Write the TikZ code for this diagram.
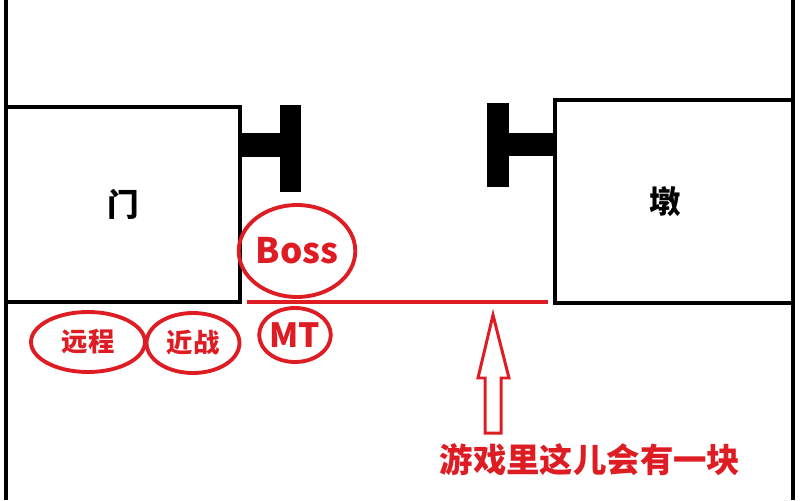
\documentclass[tikz,border=0pt]{standalone}
\usepackage{fontspec}
\setmainfont{Noto Sans CJK SC}
\usepackage{tikz}
\usetikzlibrary{shapes.geometric}
\usepackage{xcolor}
\definecolor{redmark}{RGB}{222,28,36}

\begin{document}
\begin{tikzpicture}[x=0.02cm, y=-0.02cm,
    wall/.style={line width=2.3pt, black},
    room/.style={draw, line width=2.3pt, rectangle, inner sep=0pt, font=\bfseries\fontsize{18}{18}\selectfont},
    unit/.style={draw=redmark, line width=2.2pt, ellipse, inner sep=0pt, text=redmark, font=\bfseries\fontsize{15}{15}\selectfont},
  ]
  \useasboundingbox (0,0) rectangle (800,500);

  % walls
  \draw[wall] (6,0) -- (6,500);
  \draw[wall] (793,0) -- (793,500);

  \node[room, minimum width=4.68cm, minimum height=3.9cm] (door) at (123,204.5) {门};
  \node[room, minimum width=4.76cm, minimum height=4.06cm] (pier) at (674,201.5) {\hspace*{-10pt}墩};

  % hooks
  \fill (240,133) rectangle (280,157);
  \fill (280,105) rectangle (301,192);
  \fill (487,103) rectangle (509,187);
  \fill (509,133) rectangle (555,156);

  \node[unit, minimum width=1.96cm, minimum height=1.84cm, font=\bfseries\fontsize{20}{20}\selectfont] (boss) at (297,251) {Boss};
  \node[unit, minimum width=1.24cm, minimum height=1.08cm, font=\bfseries\fontsize{19}{19}\selectfont] (mt) at (295,335) {MT};
  \node[unit, minimum width=2.28cm, minimum height=1.2cm] (ranged) at (88,342) {远程};
  \node[unit, minimum width=1.86cm, minimum height=1.2cm] (melee) at (193,343) {近战};

  \coordinate (edgeL) at (247,302);
  \coordinate (edgeR) at (548,302);
  \draw[draw=redmark, line width=2.3pt] (edgeL) -- (edgeR);

  % arrow
  \coordinate (tip) at (493,315);
  \draw[draw=redmark, line width=1.7pt, line join=miter] (tip) -- (478,378) -- (485,378) -- (485,433)
    -- (501,433) -- (501,378) -- (509,378) -- cycle;

  \node[text=redmark, font=\bfseries\fontsize{19}{19}\selectfont, inner sep=0pt] (note) at (590,460) {游戏里这儿会有一块};

\end{tikzpicture}
\end{document}
